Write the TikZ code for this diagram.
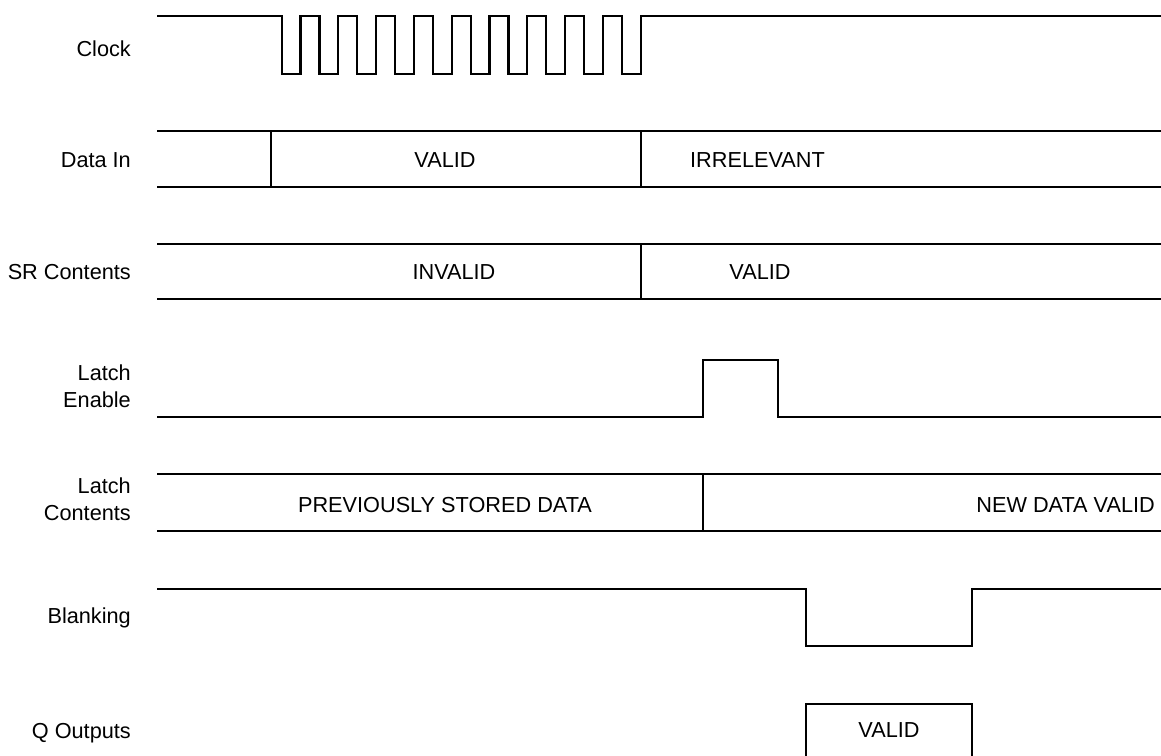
\documentclass[tikz,border=0pt]{standalone}
\usepackage{fontspec}
\setmainfont{Liberation Sans}
\begin{document}
\begin{tikzpicture}[x=1pt,y=-1pt,
  wave/.style={black, line width=2.2pt, line join=miter},
  siglabel/.style={anchor=base east, align=right, inner sep=0pt, font=\fontsize{21.7}{27}\selectfont},
  cell/.style={anchor=base, inner sep=0pt, font=\fontsize{21.7}{25}\selectfont}]
\useasboundingbox (0,0) rectangle (1161,755);
% signal names
\node[siglabel] (clk) at (131,56) {Clock};
\node[siglabel] (din) at (131,167) {Data In};
\node[siglabel] (src) at (131,279) {SR Contents};
\node[siglabel] (le) at (131,407) {Latch\\Enable};
\node[siglabel] (lc) at (131,520) {Latch\\Contents};
\node[siglabel] (blank) at (131,623) {Blanking};
\node[siglabel] (qout) at (131,738) {Q Outputs};
% clock
\draw[wave] (157,16) \foreach \i in {0,...,9} {-- ({281.7+37.8*\i},16) -- ++(0,58) -- ++(18.8,0) -- ++(0,-58)} -- (1161,16);
% data in
\draw[wave] (157,131) -- (1161,131) (157,187) -- (1161,187) (271,131) -- (271,187) (641,131) -- (641,187);
\node[cell] (dinvalid) at (445,167) {VALID};
\node[cell, anchor=base west] (dinirr) at (690,167) {IRRELEVANT};
% shift register
\draw[wave] (157,244) -- (1161,244) (157,299) -- (1161,299) (641,244) -- (641,299);
\node[cell] (srinvalid) at (454,279) {INVALID};
\node[cell] (srvalid) at (760,279) {VALID};
% latch enable
\draw[wave] (157,417) -- (703,417) -- (703,360) -- (778,360) -- (778,417) -- (1161,417);
% latch contents
\draw[wave] (157,474) -- (1161,474) (157,531) -- (1161,531) (703,474) -- (703,531);
\node[cell] (lcprev) at (445,512) {PREVIOUSLY STORED DATA};
\node[cell, anchor=base east] (lcnew) at (1155,512) {NEW DATA VALID};
% blanking
\draw[wave] (157,589) -- (806,589) -- (806,646) -- (972,646) -- (972,589) -- (1161,589);
% outputs
\draw[wave] (806,757) -- (806,704) -- (972,704) -- (972,757);
\node[cell] (qvalid) at (889,737) {VALID};
\end{tikzpicture}
\end{document}
